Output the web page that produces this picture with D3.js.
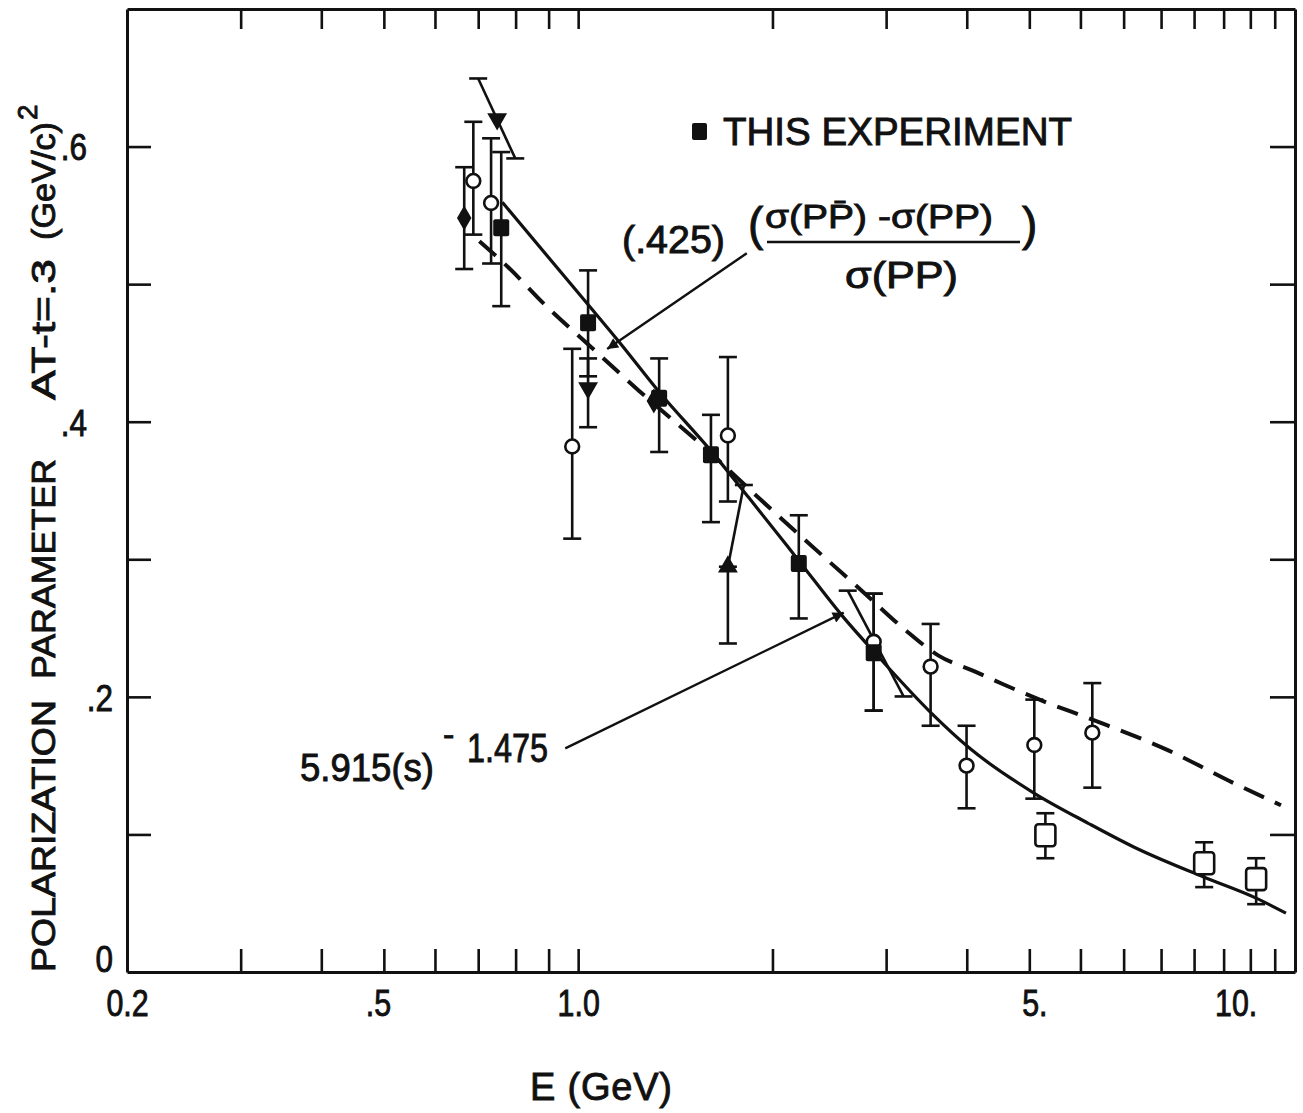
<!DOCTYPE html>
<html>
<head>
<meta charset="utf-8">
<script src="https://cdn.jsdelivr.net/npm/d3@7"></script>
<style>
  body { margin: 0; background: #fff; }
  svg text { font-family: "Liberation Sans", Arial, sans-serif; fill: #111; stroke: #111; stroke-width: 0.9px; }
</style>
</head>
<body>
<div id="chart"></div>
<script>
// ---- data: E in GeV, polarization P ----
// filled squares: "this experiment"
const expE  = [0.760, 1.036, 1.335, 1.606, 2.197, 2.870];
const expP  = [0.541, 0.472, 0.417, 0.376, 0.297, 0.232];
const expHi = [0.596, 0.510, 0.446, 0.405, 0.332, 0.275];
const expLo = [0.484, 0.433, 0.378, 0.327, 0.257, 0.190];

// open circles
const circE  = [0.688, 0.733, 0.979, 1.706, 2.870, 3.516, 3.997, 5.090, 6.260];
const circP  = [0.575, 0.559, 0.382, 0.390, 0.240, 0.222, 0.150, 0.165, 0.174];
const circHi = [0.618, 0.606, 0.453, 0.447, 0.275, 0.253, 0.179, 0.198, 0.210];
const circLo = [0.536, 0.515, 0.315, 0.342, 0.190, 0.179, 0.119, 0.126, 0.134];

// filled diamonds
const diaE  = [0.666, 1.310];
const diaP  = [0.548, 0.415];
const diaHi = [0.585, null];
const diaLo = [0.511, null];

// filled triangles (down / up)
const triDnE  = [0.749, 1.036];
const triDnP  = [0.620, 0.4245];
const triDnHi = [null, 0.446];
const triDnLo = [null, 0.396];
const triUpE  = [1.706];
const triUpP  = [0.2946];
const triUpLo = [0.2388];

// slanted error bars (drawn tilted in the original)
const tiltLoE = [0.799, 1.706, 3.193];
const tiltLoP = [0.5914, 0.2946, 0.2003];
const tiltHiE = [0.700, 1.806, 2.616];
const tiltHiP = [0.6495, 0.354, 0.2772];
const tiltCapLo = [true, false, true];

// open squares
const osqE  = [5.295, 9.33, 11.23];
const osqP  = [0.0994, 0.0791, 0.0675];
const osqHi = [0.1154, 0.0943, 0.0827];
const osqLo = [0.0827, 0.0617, 0.0493];

const powE = [0.763, 1.025, 1.161, 1.335, 1.606, 1.839, 2.197, 2.579, 2.880, 3.528, 4.025, 5.090, 6.170, 7.270, 9.330, 11.23, 12.49];
const powP = [0.5595, 0.4877, 0.4572, 0.4216, 0.3788, 0.3447, 0.299, 0.2576, 0.2322, 0.188, 0.1633, 0.1299, 0.1081, 0.0907, 0.0689, 0.0537, 0.0428];

const xsE = [0.703, 0.782, 0.886, 1.051, 1.243, 1.572, 1.926, 2.410, 2.750, 3.205, 3.617, 4.113, 4.527, 5.220, 6.305, 8.210, 10.38, 12.27];
const xsP = [0.5312, 0.5116, 0.4855, 0.4536, 0.4224, 0.381, 0.3425, 0.3012, 0.2772, 0.2490, 0.2300, 0.2185, 0.2097, 0.1974, 0.1829, 0.1611, 0.1372, 0.1212];

// axes
const xDomain = [0.2, 12.9];
const yDomain = [0, 0.7];
const xTicks = [0.3, 0.4, 0.5, 0.6, 0.7, 0.8, 0.9, 1, 2, 3, 4, 5, 6, 7, 8, 9, 10, 11, 12];
const xLabelVals = [0.2, 0.5, 1, 5, 10];
const xLabelText = ["0.2", ".5", "1.0", "5.", "10."];
const yTicks = [0.1, 0.2, 0.3, 0.4, 0.5, 0.6];
const yLabelVals = [0, 0.2, 0.4, 0.6];
const yLabelText = ["0", ".2", ".4", ".6"];

// annotation arrows (data coords, tail -> head)
const arrowXs  = [[1.825, 0.5225], [1.109, 0.4528]];
const arrowPow = [[0.955, 0.1626], [2.579, 0.2612]];

const W = 1303, H = 1113;
const margin = { top: 9, right: 8, bottom: 141, left: 127 };

const svg = d3.select("#chart").append("svg")
    .attr("width", W)
    .attr("height", H);

const x = d3.scaleLog().domain(xDomain).range([margin.left, W - margin.right]);
const y = d3.scaleLinear().domain(yDomain).range([H - margin.bottom, margin.top]);

const ink = "#111";

// squeeze text horizontally, the lettering in the figure is narrow
function condense(sel, f) {
    sel.each(function () {
        const w = this.getComputedTextLength();
        d3.select(this).attr("textLength", w * f).attr("lengthAdjust", "spacingAndGlyphs");
    });
}

// ---- frame and ticks ----
function styleAxis(g) {
    g.select(".domain").attr("stroke", ink).attr("stroke-width", 3);
    g.selectAll(".tick line").attr("stroke", ink).attr("stroke-width", 2.6);
}

svg.append("g")
    .attr("transform", `translate(0,${y(0)})`)
    .call(d3.axisBottom(x).tickValues(xTicks).tickSizeInner(-23).tickSizeOuter(0).tickFormat(""))
    .call(styleAxis);

svg.append("g")
    .attr("transform", `translate(0,${y(0.7)})`)
    .call(d3.axisTop(x).tickValues(xTicks).tickSizeInner(-20).tickSizeOuter(0).tickFormat(""))
    .call(styleAxis);

svg.append("g")
    .attr("transform", `translate(${x(xDomain[0])},0)`)
    .call(d3.axisLeft(y).tickValues(yTicks).tickSizeInner(-24).tickSizeOuter(0).tickFormat(""))
    .call(styleAxis);

svg.append("g")
    .attr("transform", `translate(${x(xDomain[1])},0)`)
    .call(d3.axisRight(y).tickValues(yTicks).tickSizeInner(-25).tickSizeOuter(0).tickFormat(""))
    .call(styleAxis);

// tick labels
const xLabShift = [0, -6, 0, 5, 12];
const xLab = svg.append("g")
    .attr("transform", `translate(0,${y(0)})`)
    .call(d3.axisBottom(x).tickValues(xLabelVals).tickSize(0).tickPadding(18)
        .tickFormat((d, i) => xLabelText[i]));
xLab.select(".domain").remove();
xLab.selectAll("text").attr("font-size", 37).attr("fill", ink)
    .attr("dy", "0.71em")
    .attr("dx", (d, i) => xLabShift[i]);
condense(xLab.selectAll("text"), 0.82);

const yLab = svg.append("g")
    .attr("transform", `translate(${x(xDomain[0])},0)`)
    .call(d3.axisLeft(y).tickValues(yLabelVals).tickSize(0).tickPadding(14)
        .tickFormat((d, i) => yLabelText[i]));
yLab.select(".domain").remove();
yLab.selectAll("text").attr("font-size", 37).attr("fill", ink)
    .attr("x", d => d >= 0.4 ? -40 : -14)
    .attr("dy", d => d === 0 ? "-0.02em" : "0.36em");
condense(yLab.selectAll("text"), 0.85);

// axis titles
svg.append("text")
    .attr("x", 530).attr("y", 1100)
    .attr("font-size", 38)
    .attr("textLength", 142).attr("lengthAdjust", "spacing")
    .text("E (GeV)");

const yTitle = svg.append("text")
    .attr("transform", "translate(55,972) rotate(-90)")
    .attr("font-size", 34);
yTitle.append("tspan").attr("x", 0).attr("y", 0).attr("textLength", 272).attr("lengthAdjust", "spacingAndGlyphs").text("POLARIZATION");
yTitle.append("tspan").attr("x", 293).attr("y", 0).attr("textLength", 220).attr("lengthAdjust", "spacingAndGlyphs").text("PARAMETER");
yTitle.append("tspan").attr("x", 572).attr("y", 0).attr("textLength", 141).attr("lengthAdjust", "spacingAndGlyphs").text("AT-t=.3");
yTitle.append("tspan").attr("x", 732).attr("y", 0).attr("textLength", 118).attr("lengthAdjust", "spacingAndGlyphs").text("(GeV/c)");
yTitle.append("tspan").attr("x", 852).attr("y", -18).attr("font-size", 28).text("2");

// ---- curves ----
const line = d3.line().x(d => x(d[0])).y(d => y(d[1])).curve(d3.curveMonotoneX);

svg.append("path")
    .datum(d3.zip(xsE, xsP))
    .attr("d", line)
    .attr("fill", "none").attr("stroke", ink).attr("stroke-width", 4)
    .attr("stroke-dasharray", "22,12");

svg.append("path")
    .datum(d3.zip(powE, powP))
    .attr("d", line)
    .attr("fill", "none").attr("stroke", ink).attr("stroke-width", 3.2);

// ---- error bars ----
const capW = 9;
function errorBars(E, lo, hi) {
    const g = svg.append("g").attr("stroke", ink).attr("stroke-width", 2.6);
    E.forEach((e, i) => {
        if (lo[i] == null || hi[i] == null) return;
        const cx = x(e);
        g.append("line").attr("x1", cx).attr("x2", cx).attr("y1", y(lo[i])).attr("y2", y(hi[i]));
        [lo[i], hi[i]].forEach(v => {
            g.append("line").attr("x1", cx - capW).attr("x2", cx + capW).attr("y1", y(v)).attr("y2", y(v));
        });
    });
}
errorBars(expE, expLo, expHi);
errorBars(circE, circLo, circHi);
errorBars(diaE, diaLo, diaHi);
errorBars(triDnE, triDnLo, triDnHi);
errorBars(osqE, osqLo, osqHi);
errorBars(triUpE, triUpLo, triUpP);

// tilted bars
const tg = svg.append("g").attr("stroke", ink).attr("stroke-width", 2.6);
tiltLoE.forEach((e, i) => {
    const x1 = x(e), y1 = y(tiltLoP[i]), x2 = x(tiltHiE[i]), y2 = y(tiltHiP[i]);
    tg.append("line").attr("x1", x1).attr("y1", y1).attr("x2", x2).attr("y2", y2);
    tg.append("line").attr("x1", x2 - capW).attr("x2", x2 + capW).attr("y1", y2).attr("y2", y2);
    if (tiltCapLo[i]) tg.append("line").attr("x1", x1 - capW).attr("x2", x1 + capW).attr("y1", y1).attr("y2", y1);
});

// ---- markers ----
svg.append("g").selectAll("path")
    .data(d3.zip(circE, circP)).join("path")
    .attr("transform", d => `translate(${x(d[0])},${y(d[1])})`)
    .attr("d", d3.symbol(d3.symbolCircle, 150)())
    .attr("fill", "#fff").attr("stroke", ink).attr("stroke-width", 2.6);

svg.append("g").selectAll("path")
    .data(d3.zip(diaE, diaP)).join("path")
    .attr("transform", d => `translate(${x(d[0])},${y(d[1])})`)
    .attr("d", d3.symbol(d3.symbolDiamond, 180)())
    .attr("fill", ink);

svg.append("g").selectAll("path")
    .data(d3.zip(triDnE, triDnP)).join("path")
    .attr("transform", d => `translate(${x(d[0])},${y(d[1])}) rotate(180)`)
    .attr("d", d3.symbol(d3.symbolTriangle, 170)())
    .attr("fill", ink);

svg.append("g").selectAll("path")
    .data(d3.zip(triUpE, triUpP)).join("path")
    .attr("transform", d => `translate(${x(d[0])},${y(d[1])})`)
    .attr("d", d3.symbol(d3.symbolTriangle, 170)())
    .attr("fill", ink);

svg.append("g").selectAll("rect")
    .data(d3.zip(expE, expP)).join("rect")
    .attr("x", d => x(d[0]) - 8).attr("y", d => y(d[1]) - 8.5)
    .attr("width", 16).attr("height", 17).attr("rx", 2)
    .attr("fill", ink);

svg.append("g").selectAll("rect")
    .data(d3.zip(osqE, osqP)).join("rect")
    .attr("x", d => x(d[0]) - 10).attr("y", d => y(d[1]) - 11)
    .attr("width", 20).attr("height", 22).attr("rx", 3)
    .attr("fill", "#fff").attr("stroke", ink).attr("stroke-width", 2.6);

// ---- annotations ----
svg.append("defs").append("marker")
    .attr("id", "head").attr("viewBox", "0 0 10 10")
    .attr("refX", 10).attr("refY", 5)
    .attr("markerWidth", 22).attr("markerHeight", 11)
    .attr("markerUnits", "userSpaceOnUse")
    .attr("orient", "auto")
    .append("path").attr("d", "M0,0L10,5L0,10Z").attr("fill", ink);

[arrowXs, arrowPow].forEach(a => {
    svg.append("line")
        .attr("x1", x(a[0][0])).attr("y1", y(a[0][1]))
        .attr("x2", x(a[1][0])).attr("y2", y(a[1][1]))
        .attr("stroke", ink).attr("stroke-width", 2.4)
        .attr("marker-end", "url(#head)");
});

// legend
svg.append("rect").attr("x", 692).attr("y", 123).attr("width", 15).attr("height", 17).attr("rx", 2).attr("fill", ink);
svg.append("text").attr("x", 723).attr("y", 145).attr("font-size", 38)
    .attr("textLength", 349).attr("lengthAdjust", "spacingAndGlyphs").text("THIS EXPERIMENT");

// cross-section formula
svg.append("text").attr("x", 622).attr("y", 253).attr("font-size", 38)
    .attr("textLength", 103).attr("lengthAdjust", "spacingAndGlyphs").text("(.425)");
svg.append("text").attr("x", 748).attr("y", 240).attr("font-size", 46).text("(");
svg.append("text").attr("x", 1022).attr("y", 240).attr("font-size", 46).text(")");
svg.append("text").attr("x", 765).attr("y", 228).attr("font-size", 33)
    .attr("textLength", 228).attr("lengthAdjust", "spacingAndGlyphs")
    .text("σ(PP\u0304) -σ(PP)");
svg.append("line").attr("x1", 767).attr("x2", 1020).attr("y1", 242).attr("y2", 242)
    .attr("stroke", ink).attr("stroke-width", 2.4);
svg.append("text").attr("x", 845).attr("y", 288).attr("font-size", 37)
    .attr("textLength", 113).attr("lengthAdjust", "spacingAndGlyphs").text("σ(PP)");

// power law label, one text with base and exponent parts
const pw = svg.append("text").attr("font-size", 38);
pw.append("tspan").attr("x", 300).attr("y", 781)
    .attr("textLength", 134).attr("lengthAdjust", "spacingAndGlyphs").text("5.915(s)");
pw.append("tspan").attr("x", 443).attr("y", 746).attr("font-size", 34).text("-");
pw.append("tspan").attr("x", 467).attr("y", 762).attr("font-size", 40)
    .attr("textLength", 81).attr("lengthAdjust", "spacingAndGlyphs").text("1.475");
</script>
</body>
</html>
